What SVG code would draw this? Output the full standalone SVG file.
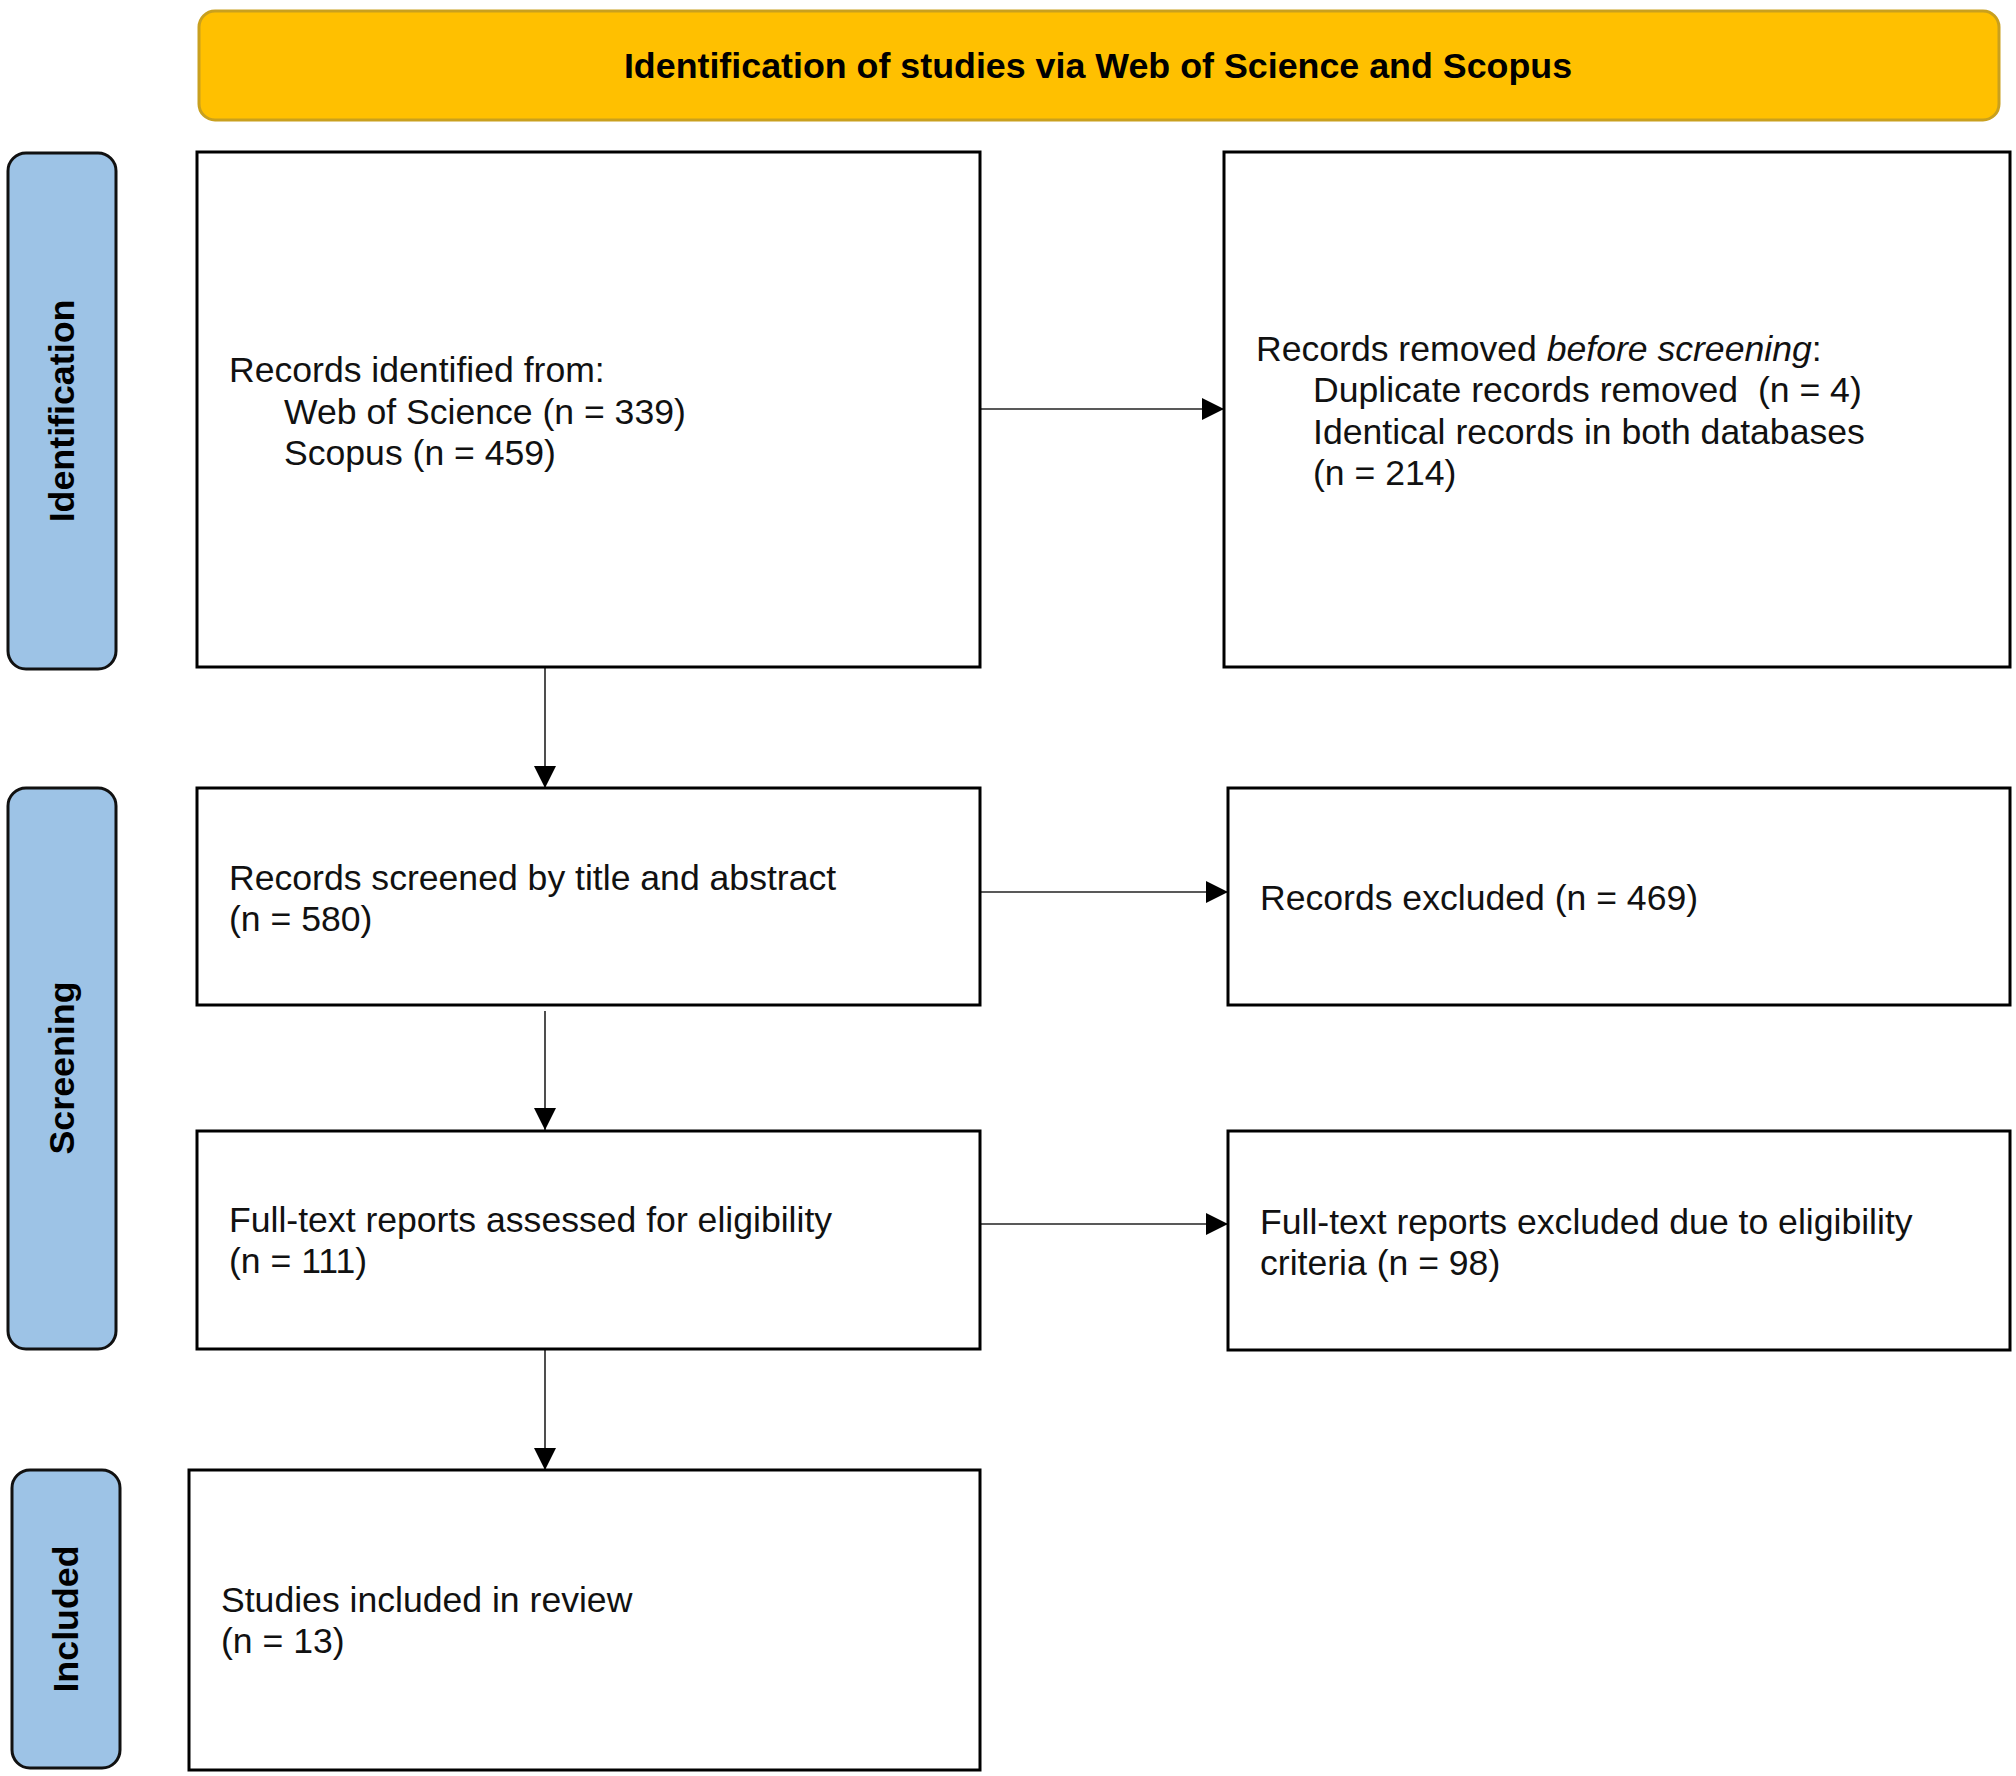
<svg xmlns="http://www.w3.org/2000/svg" width="2016" height="1776" viewBox="0 0 2016 1776">
<style>
.box{fill:#fff;stroke:#000;stroke-width:3}
.phase{fill:#9DC3E6;stroke:#111;stroke-width:3}
.hdr{fill:#FFC000;stroke:#C9A01E;stroke-width:3}
.t{font-family:"Liberation Sans",Arial,sans-serif;font-size:35.6px;fill:#111;white-space:pre}
.b{font-family:"Liberation Sans",Arial,sans-serif;font-size:35.8px;font-weight:bold;fill:#000}
.c{stroke:#222;stroke-width:1.6;fill:none}
</style>
<defs>
<marker id="ah" viewBox="0 0 22 22" refX="22" refY="11" markerWidth="22" markerHeight="22" markerUnits="userSpaceOnUse" orient="auto">
<path d="M0,0 L22,11 L0,22 Z" fill="#000"/>
</marker>
</defs>
<rect width="2016" height="1776" fill="#fff"/>

<g id="header">
<rect class="hdr" x="199" y="11" width="1800" height="109" rx="16"/>
<text class="b" x="1098" y="78" text-anchor="middle">Identification of studies via Web of Science and Scopus</text>
</g>

<g id="phase-identification">
<rect class="phase" x="8" y="153" width="108" height="516" rx="18"/>
<text class="b" transform="translate(74,411) rotate(-90)" text-anchor="middle">Identification</text>
</g>
<g id="phase-screening">
<rect class="phase" x="8" y="788" width="108" height="561" rx="18"/>
<text class="b" transform="translate(74,1068) rotate(-90)" text-anchor="middle">Screening</text>
</g>
<g id="phase-included">
<rect class="phase" x="12" y="1470" width="108" height="298" rx="18"/>
<text class="b" transform="translate(78,1619) rotate(-90)" text-anchor="middle">Included</text>
</g>

<g id="connectors">
<line class="c" x1="980" y1="409" x2="1224" y2="409" marker-end="url(#ah)"/>
<line class="c" x1="545" y1="667" x2="545" y2="788" marker-end="url(#ah)"/>
<line class="c" x1="980" y1="892" x2="1228" y2="892" marker-end="url(#ah)"/>
<line class="c" x1="545" y1="1011" x2="545" y2="1130" marker-end="url(#ah)"/>
<line class="c" x1="980" y1="1224" x2="1228" y2="1224" marker-end="url(#ah)"/>
<line class="c" x1="545" y1="1349" x2="545" y2="1470" marker-end="url(#ah)"/>
</g>

<g id="records-identified">
<rect class="box" x="197" y="152" width="783" height="515"/>
<text class="t" x="229" y="382">Records identified from:</text>
<text class="t" x="284" y="424">Web of Science (n = 339)</text>
<text class="t" x="284" y="465">Scopus (n = 459)</text>
</g>

<g id="records-removed">
<rect class="box" x="1224" y="152" width="786" height="515"/>
<text class="t" x="1256" y="361">Records removed <tspan font-style="italic">before screening</tspan>:</text>
<text class="t" x="1313" y="402">Duplicate records removed  (n = 4)</text>
<text class="t" x="1313" y="444">Identical records in both databases</text>
<text class="t" x="1313" y="485">(n = 214)</text>
</g>

<g id="records-screened">
<rect class="box" x="197" y="788" width="783" height="217"/>
<text class="t" x="229" y="890">Records screened by title and abstract</text>
<text class="t" x="229" y="931">(n = 580)</text>
</g>

<g id="records-excluded">
<rect class="box" x="1228" y="788" width="782" height="217"/>
<text class="t" x="1260" y="910">Records excluded (n = 469)</text>
</g>

<g id="fulltext-assessed">
<rect class="box" x="197" y="1131" width="783" height="218"/>
<text class="t" x="229" y="1232">Full-text reports assessed for eligibility</text>
<text class="t" x="229" y="1273">(n = 111)</text>
</g>

<g id="fulltext-excluded">
<rect class="box" x="1228" y="1131" width="782" height="219"/>
<text class="t" x="1260" y="1234">Full-text reports excluded due to eligibility</text>
<text class="t" x="1260" y="1275">criteria (n = 98)</text>
</g>

<g id="studies-included">
<rect class="box" x="189" y="1470" width="791" height="300"/>
<text class="t" x="221" y="1612">Studies included in review</text>
<text class="t" x="221" y="1653">(n = 13)</text>
</g>
</svg>
